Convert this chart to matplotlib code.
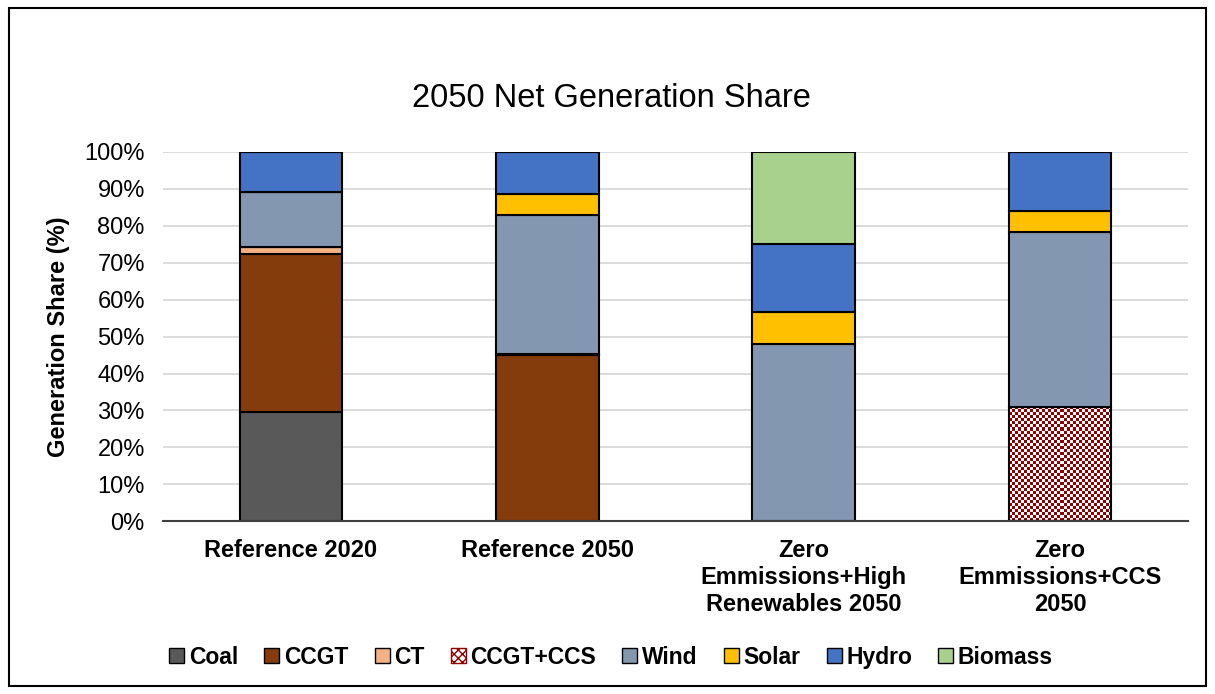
import matplotlib.pyplot as plt
from matplotlib.patches import Rectangle, Patch
from matplotlib.colors import ListedColormap
import numpy as np

plt.rcParams['font.family'] = ['Liberation Sans', 'DejaVu Sans']

scenarios = ["Reference 2020", "Reference 2050",
             "Zero\nEmmissions+High\nRenewables 2050", "Zero\nEmmissions+CCS\n2050"]
techs = ["Coal", "CCGT", "CT", "CCGT+CCS", "Wind", "Solar", "Hydro", "Biomass"]

# generation share (%) per scenario
coal     = [29.5, 0.0, 0.0, 0.0]
ccgt     = [42.9, 45.0, 0.0, 0.0]
ct       = [1.8, 0.4, 0.0, 0.0]
ccgt_ccs = [0.0, 0.0, 0.0, 31.0]
wind     = [15.0, 37.5, 48.0, 47.4]
solar    = [0.0, 5.7, 8.6, 5.6]
hydro    = [10.8, 11.4, 18.4, 16.0]
biomass  = [0.0, 0.0, 25.0, 0.0]

series = [coal, ccgt, ct, ccgt_ccs, wind, solar, hydro, biomass]
colors = ["#595959", "#843C0C", "#F4B183", "#FFFFFF", "#8497B0", "#FFC000", "#4472C4", "#A9D18E"]
hatch_red = "#8B0000"

fig = plt.figure(figsize=(12.15, 6.94), dpi=100)
ax = fig.add_axes([0.134, 0.249, 0.844, 0.532])

# outer chart border
fig.patches.append(Rectangle((0.007, 0.012), 0.986, 0.976, transform=fig.transFigure,
                             fill=False, edgecolor="black", linewidth=1.5))

x = np.arange(len(scenarios))
bottom = np.zeros(len(scenarios))
width = 0.4

# checker texture for the CCS bars (~3 px squares)
yy, xx = np.indices((123, 34))
checker = ((yy + xx) % 2).astype(float)
checker_cmap = ListedColormap(["white", hatch_red])

for name, vals, col in zip(techs, series, colors):
    vals = np.array(vals)
    bars = ax.bar(x, vals, width, bottom=bottom, color=col, edgecolor="black",
                  linewidth=1.5, zorder=3)
    if name == "CCGT+CCS":
        for b, v in zip(bars, vals):
            if v <= 0:
                continue
            bx = b.get_x()
            im = ax.imshow(checker, cmap=checker_cmap, interpolation="nearest",
                           extent=[bx, bx + width, 0, 100],
                           aspect="auto", zorder=2.5)
            im.set_clip_path(b)
            b.set_facecolor("none")
    bottom += vals

ax.set_xlim(-0.5, len(scenarios) - 0.5)
ax.set_ylim(0, 100)
ax.set_yticks(np.arange(0, 101, 10))
ax.set_yticklabels([f"{v}%" for v in range(0, 101, 10)], fontsize=17)
ax.set_xticks(x)
ax.set_xticklabels(scenarios, fontsize=17, fontweight="bold", linespacing=1.22)
ax.tick_params(axis="both", length=0)
ax.tick_params(axis="y", pad=13)
ax.tick_params(axis="x", pad=13)

ax.grid(axis="y", color="#D9D9D9", linewidth=1.3, zorder=0)
for s in ["top", "right", "left"]:
    ax.spines[s].set_visible(False)
ax.spines["bottom"].set_color("#404040")
ax.spines["bottom"].set_linewidth(1.5)
ax.spines["bottom"].set_zorder(4)

ax.set_ylabel("Generation Share (%)", fontsize=17, fontweight="bold", labelpad=10)
fig.text(0.503, 0.858, "2050 Net Generation Share", ha="center", va="center", fontsize=23.5)

handles = []
for name, col in zip(techs, colors):
    if name == "CCGT+CCS":
        handles.append(Patch(facecolor="white", edgecolor=hatch_red, hatch="xxxx", label=name))
    else:
        handles.append(Patch(facecolor=col, edgecolor="black", label=name))
leg = fig.legend(handles=handles, loc="center", bbox_to_anchor=(0.503, 0.053), ncol=8,
                 frameon=False, prop={"weight": "bold", "size": 16.5},
                 handlelength=0.65, handleheight=0.65, handletextpad=0.2, columnspacing=1.15)

plt.savefig("out.png", dpi=100)
